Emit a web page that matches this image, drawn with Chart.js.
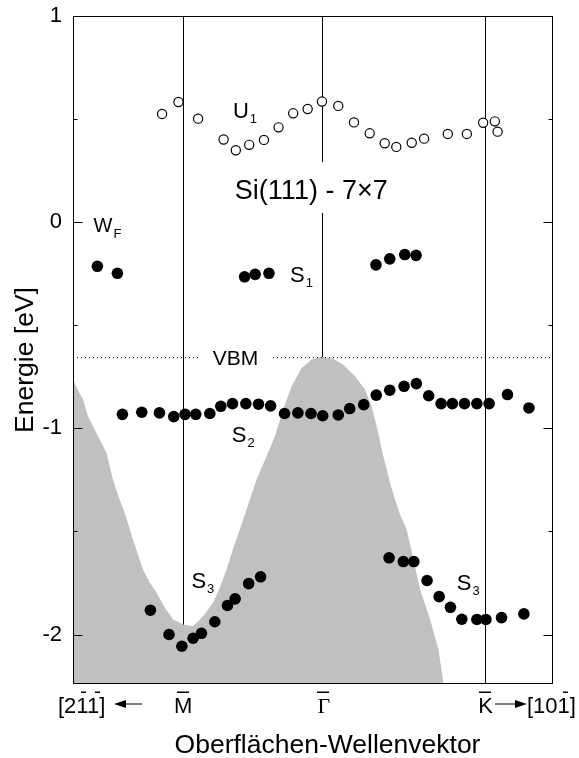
<!DOCTYPE html>
<html>
<head>
<meta charset="utf-8">
<script src="https://cdn.jsdelivr.net/npm/chart.js@4.4.1/dist/chart.umd.min.js"></script>
<style>
  html, body { margin: 0; padding: 0; background: #fff; }
  #wrap { width: 579px; height: 758px; }
</style>
</head>
<body>
<div id="wrap"><canvas id="bands" width="579" height="758"></canvas></div>
<script>
// Si(111)-7x7 Oberflächenzustände, k in Einheiten von |Γ̄M̄|

const SANS = "'Liberation Sans', Arial, sans-serif";
const SERIF = "'Liberation Serif', 'DejaVu Serif', serif";

const kMin = -1.791, kMax = 1.658;
const eMin = -2.24, eMax = 1;
const symK = [-1, 0, 1.173];          // M̄, Γ̄, K̄
const symNames = ['M', 'Γ', 'K'];
const eTicks = [-2, -1.5, -1, -0.5, 0, 0.5, 1];
const vbm = -0.657;

// U1 (unbesetzt, offene Kreise)
const u1K = [-1.151, -1.033, -0.892, -0.709, -0.621, -0.525, -0.419, -0.314, -0.209, -0.105, -0.002, 0.115,
             0.228, 0.341, 0.449, 0.532, 0.643, 0.732, 0.902, 1.039, 1.156, 1.240, 1.260];
const u1E = [0.525, 0.583, 0.502, 0.401, 0.349, 0.375, 0.399, 0.460, 0.528, 0.549, 0.585, 0.564,
             0.484, 0.431, 0.383, 0.365, 0.385, 0.405, 0.428, 0.428, 0.482, 0.489, 0.439];

// W_F
const wfK = [-1.616, -1.472];
const wfE = [-0.214, -0.248];

// S1
const s1K = [-0.558, -0.482, -0.383, 0.386, 0.485, 0.593, 0.674];
const s1E = [-0.265, -0.253, -0.248, -0.207, -0.178, -0.157, -0.161];

// S2
const s2K = [-1.436, -1.297, -1.170, -1.067, -0.986, -0.909, -0.808, -0.729, -0.645, -0.549, -0.458, -0.371,
             -0.271, -0.175, -0.081, 0.003, 0.115, 0.197, 0.298, 0.388, 0.485, 0.588, 0.676, 0.765,
             0.854, 0.935, 1.022, 1.111, 1.199, 1.331, 1.485];
const s2E = [-0.932, -0.922, -0.925, -0.943, -0.932, -0.932, -0.928, -0.893, -0.880, -0.880, -0.883, -0.891,
             -0.928, -0.925, -0.928, -0.939, -0.935, -0.904, -0.885, -0.839, -0.815, -0.796, -0.783, -0.842,
             -0.880, -0.880, -0.880, -0.880, -0.880, -0.836, -0.901];

// S3
const s3K = [-1.235, -1.101, -1.009, -0.928, -0.868, -0.772, -0.681, -0.626, -0.529, -0.443,
             0.480, 0.583, 0.658, 0.753, 0.840, 0.921, 1.003, 1.111, 1.176, 1.288, 1.449];
const s3E = [-1.882, -2.000, -2.057, -2.018, -1.994, -1.938, -1.859, -1.827, -1.753, -1.720,
             -1.628, -1.646, -1.646, -1.738, -1.816, -1.868, -1.926, -1.927, -1.927, -1.918, -1.900];

// projizierte Volumenbänder (Oberkante)
const bulkK = [-1.791, -1.758, -1.719, -1.683, -1.635, -1.599, -1.551, -1.504, -1.456, -1.420, -1.360, -1.288,
               -1.240, -1.191, -1.132, -1.072, -1.000, -0.928, -0.856, -0.784, -0.736, -0.688, -0.642, -0.592,
               -0.520, -0.472, -0.400, -0.340, -0.281, -0.220, -0.148, -0.076, -0.004, 0.079, 0.151, 0.235,
               0.307, 0.355, 0.391, 0.439, 0.487, 0.523, 0.559, 0.607, 0.655, 0.703, 0.775, 0.835, 0.871];
const bulkE = [-0.763, -0.812, -0.860, -0.941, -1.007, -1.054, -1.117, -1.248, -1.345, -1.408, -1.539, -1.685,
               -1.748, -1.796, -1.869, -1.927, -1.951, -1.960, -1.911, -1.845, -1.772, -1.685, -1.588, -1.491,
               -1.345, -1.248, -1.135, -1.038, -0.909, -0.796, -0.707, -0.666, -0.653, -0.663, -0.691, -0.747,
               -0.811, -0.893, -0.990, -1.135, -1.264, -1.345, -1.418, -1.491, -1.636, -1.782, -1.927, -2.073, -2.238];

function pts(ks, es) {
    return ks.map((k, i) => ({ x: k, y: es[i] }));
}

function line(ctx, x1, y1, x2, y2) {
    ctx.beginPath();
    ctx.moveTo(x1, y1);
    ctx.lineTo(x2, y2);
    ctx.stroke();
}

function arrow(ctx, x1, x2, y) {
    const dir = Math.sign(x2 - x1);
    line(ctx, x1, y, x2 - dir * 6, y);
    ctx.beginPath();
    ctx.moveTo(x2, y);
    ctx.lineTo(x2 - dir * 12, y - 4);
    ctx.lineTo(x2 - dir * 12, y + 4);
    ctx.closePath();
    ctx.fill();
}

// Text mit Index, z.B. S_1
function withSub(ctx, main, sub, x0, y0, size) {
    ctx.font = size + 'px ' + SANS;
    ctx.textAlign = 'left';
    ctx.textBaseline = 'alphabetic';
    ctx.fillText(main, x0, y0);
    const w = ctx.measureText(main).width;
    ctx.font = '13px ' + SANS;
    ctx.fillText(sub, x0 + w + 1, y0 + 5.5);
}

function overbar(ctx, cx, w, y) {
    ctx.fillRect(Math.round(cx - w / 2), y, Math.round(w), 1.5);
}

const deko = {
    id: 'deko',
    afterDraw(chart) {
        const { ctx, chartArea: a } = chart;
        const x = chart.scales.x, y = chart.scales.y;
        const X = k => x.getPixelForValue(k);
        const Y = e => y.getPixelForValue(e);
        ctx.save();
        ctx.strokeStyle = '#000';
        ctx.fillStyle = '#000';
        ctx.lineWidth = 1;

        // Rahmen und Ticks (nach innen)
        const L = Math.round(a.left) + 0.5, R = Math.round(a.right) - 0.5;
        const T = Math.round(a.top) + 0.5, B = Math.round(a.bottom) - 0.5;
        ctx.strokeRect(L, T, R - L, B - T);
        eTicks.forEach(v => {
            const yy = Math.round(Y(v)) + 0.5;
            const len = Number.isInteger(v) ? 9 : 4;
            line(ctx, L, yy, L + len, yy);
            line(ctx, R, yy, R - len, yy);
        });

        // Beschriftungen im Diagramm
        withSub(ctx, 'U', '1', X(-0.642), Y(0.507), 22);
        withSub(ctx, 'W', 'F', X(-1.643), Y(-0.050), 20);
        withSub(ctx, 'S', '1', X(-0.232), Y(-0.288), 22);
        withSub(ctx, 'S', '2', X(-0.650), Y(-1.066), 22);
        withSub(ctx, 'S', '3', X(-0.940), Y(-1.772), 22);
        withSub(ctx, 'S', '3', X(0.967), Y(-1.782), 22);

        // VBM mit Lücke in der gepunkteten Linie
        ctx.font = '21px ' + SANS;
        let tx = X(-0.787), ty = Y(-0.695);
        let w = ctx.measureText('VBM').width;
        ctx.fillStyle = '#fff';
        ctx.fillRect(tx - 13, ty - 20, w + 27, 24);
        ctx.fillStyle = '#000';
        ctx.fillText('VBM', tx, ty);

        // Si(111) - 7x7 mit weißem Hintergrund
        ctx.font = '27px ' + SANS;
        tx = X(-0.628); ty = Y(0.112);
        w = ctx.measureText('Si(111) - 7×7').width;
        ctx.fillStyle = '#fff';
        ctx.fillRect(tx - 4, ty - 37, w + 8, 51);
        ctx.fillStyle = '#000';
        ctx.fillText('Si(111) - 7×7', tx, ty);

        // Symmetriepunkte unter der Achse
        const base = a.bottom + 29;
        const barY = a.bottom + 7.5;
        ctx.textAlign = 'center';
        symK.forEach((k, i) => {
            const cx = X(k) + (i === 1 ? 1.5 : 0);
            ctx.font = '22px ' + (i === 1 ? SERIF : SANS);
            ctx.fillText(symNames[i], cx, base);
            overbar(ctx, cx - 0.5, 12, barY);
        });

        // Richtungen
        ctx.font = '22px ' + SANS;
        ctx.textAlign = 'left';
        const lx = a.left - 15;
        ctx.fillText('[211]', lx, base);
        const w2 = ctx.measureText('[2').width;
        const w1 = ctx.measureText('1').width;
        overbar(ctx, lx + w2 + w1 / 2 + 1.5, 5, barY);
        overbar(ctx, lx + w2 + w1 * 1.5 + 2.5, 5, barY);
        arrow(ctx, a.left + 69, a.left + 41, a.bottom + 20);

        const rx = a.right - 26;
        ctx.fillText('[101]', rx, base);
        const w3 = ctx.measureText('[10').width;
        overbar(ctx, rx + w3 + w1 / 2 + 2, 5, barY);
        arrow(ctx, a.right - 58, a.right - 26, a.bottom + 20);

        // Achsentitel
        ctx.font = '26.5px ' + SANS;
        ctx.textAlign = 'center';
        ctx.fillText('Oberflächen-Wellenvektor', (a.left + a.right) / 2 + 14.5, a.bottom + 69);
        ctx.translate(a.left - 40, (a.top + a.bottom) / 2 + 10);
        ctx.rotate(-Math.PI / 2);
        ctx.fillText('Energie [eV]', 0, 0);
        ctx.restore();
    }
};

const filled = { pointRadius: 5.8, pointBackgroundColor: '#000', pointBorderColor: '#000', pointBorderWidth: 0, order: 1 };

new Chart(document.getElementById('bands'), {
    type: 'scatter',
    data: {
        datasets: [
            { label: 'U1', data: pts(u1K, u1E), pointRadius: 4.6, pointBackgroundColor: '#fff',
              pointBorderColor: '#000', pointBorderWidth: 1.2, order: 1 },
            { label: 'WF', data: pts(wfK, wfE), ...filled },
            { label: 'S1', data: pts(s1K, s1E), ...filled },
            { label: 'S2', data: pts(s2K, s2E), ...filled },
            { label: 'S3', data: pts(s3K, s3E), ...filled },
            { type: 'line', label: 'VBM', data: [{ x: kMin, y: vbm }, { x: kMax, y: vbm }],
              borderColor: '#000', borderWidth: 1, borderDash: [1, 3], pointRadius: 0, fill: false, order: 5 },
            { type: 'line', label: 'Volumen', data: pts(bulkK, bulkE), borderWidth: 0,
              borderColor: 'rgba(0,0,0,0)', backgroundColor: '#c0c0c0', pointRadius: 0,
              fill: 'start', tension: 0, order: 10 }
        ]
    },
    options: {
        responsive: false,
        animation: false,
        devicePixelRatio: 1,
        layout: { padding: { top: 16, right: 26, left: 0, bottom: 0 } },
        plugins: { legend: { display: false }, tooltip: { enabled: false } },
        scales: {
            x: {
                type: 'linear', min: kMin, max: kMax, z: 1,
                afterBuildTicks: s => { s.ticks = symK.map(v => ({ value: v })); },
                afterFit: s => { s.height = 74; s.paddingLeft = 0; s.paddingRight = 0; },
                grid: { color: '#000', lineWidth: 1, drawTicks: false },
                border: { display: false },
                ticks: { display: false }
            },
            y: {
                type: 'linear', min: eMin, max: eMax,
                afterBuildTicks: s => { s.ticks = eTicks.map(v => ({ value: v })); },
                afterFit: s => { s.width = 73; s.paddingTop = 0; s.paddingBottom = 0; },
                grid: { display: false, drawTicks: false },
                border: { display: false },
                ticks: {
                    padding: 11, color: '#000', font: { family: SANS, size: 22 },
                    callback: v => Number.isInteger(v) ? String(v) : ''
                }
            }
        }
    },
    plugins: [deko]
});
</script>
</body>
</html>
